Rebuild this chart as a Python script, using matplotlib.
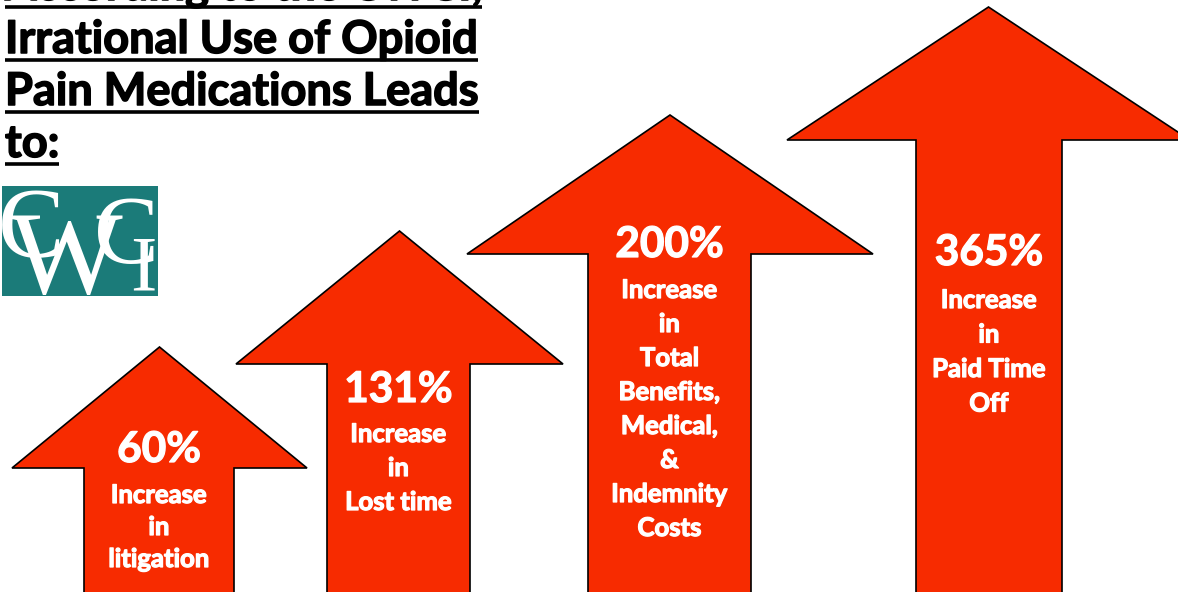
import matplotlib
matplotlib.use("Agg")
import matplotlib.pyplot as plt
import matplotlib.patheffects as pe
from matplotlib.patches import Polygon, Rectangle

# ---------------- data ----------------
percent_values = [60, 131, 200, 365]
percent_labels = [f"{v}%" for v in percent_values]
descriptions = [
    ["Increase", "in", "litigation"],
    ["Increase", "in", "Lost time"],
    ["Increase", "in", "Total", "Benefits,", "Medical,", "&", "Indemnity", "Costs"],
    ["Increase", "in", "Paid Time", "Off"],
]
title_lines = ["According to the CWCI,", "Irrational Use of Opioid",
               "Pain Medications Leads", "to:"]
logo_letters = ["C", "W", "C", "I"]

# ---------------- layout (pixel coords, y downward) ----------------
W, H = 1178, 592
shaft_left = [84, 327, 588, 916]
shaft_right = [234, 470, 751, 1062]
head_left = [12, 236, 467, 787]
head_right = [307, 563, 873, 1190]
tip_y = [347, 231, 115, 7]
head_base_y = [468, 364, 254, 140]
pct_baseline = [462, 402, 257, 265]
first_gap = [41, 40, 41, 43]
line_gap = [32, 34, 34, 34.5]

ARROW_RED = "#f72b00"
TEAL = "#1b7b79"
FONT = "Lato"

fig = plt.figure(figsize=(W / 100, H / 100), dpi=100)
ax = fig.add_axes([0, 0, 1, 1])
ax.set_xlim(0, W)
ax.set_ylim(H, 0)
ax.axis("off")

white_heavy = [pe.withStroke(linewidth=0.9, foreground="white")]
black_heavy = [pe.withStroke(linewidth=1.1, foreground="black")]

# ---------------- arrows ----------------
for i in range(len(percent_values)):
    cx = (head_left[i] + head_right[i]) / 2
    pts = [
        (cx, tip_y[i]),
        (head_right[i], head_base_y[i]),
        (shaft_right[i], head_base_y[i]),
        (shaft_right[i], H + 10),
        (shaft_left[i], H + 10),
        (shaft_left[i], head_base_y[i]),
        (head_left[i], head_base_y[i]),
    ]
    ax.add_patch(Polygon(pts, closed=True, facecolor=ARROW_RED,
                         edgecolor="black", linewidth=1.2, joinstyle="miter",
                         zorder=2))
    tx = (shaft_left[i] + shaft_right[i]) / 2
    ax.text(tx, pct_baseline[i], percent_labels[i], color="white",
            fontsize=30.5, fontweight="bold", family=FONT,
            ha="center", va="baseline", zorder=3, path_effects=white_heavy)
    y = pct_baseline[i] + first_gap[i]
    for line in descriptions[i]:
        ax.text(tx, y, line, color="white", fontsize=18.5, fontweight="bold",
                family=FONT, ha="center", va="baseline", zorder=3,
                path_effects=white_heavy)
        y += line_gap[i]

# ---------------- title ----------------
title_x = 5
title_baselines = [0, 53, 105, 157]
title_texts = []
for line, yb in zip(title_lines, title_baselines):
    t = ax.text(title_x, yb, line, color="black", fontsize=32.5,
                fontweight="bold", family=FONT, ha="left", va="baseline",
                zorder=3, path_effects=black_heavy)
    title_texts.append((t, yb))

# ---------------- logo ----------------
logo_box = Rectangle((2, 186), 156, 110, facecolor=TEAL, edgecolor="none",
                     zorder=2)
ax.add_patch(logo_box)
logo_pos = [(31, 256, 72), (66, 293, 86), (126, 263, 70), (143, 289, 57)]
for letter, (lx, ly, fs) in zip(logo_letters, logo_pos):
    lt = ax.text(lx, ly, letter, color="white", fontsize=fs,
                 family="Liberation Serif", ha="center", va="baseline",
                 zorder=3)
    lt.set_clip_path(logo_box)

# underlines from the rendered title extents
fig.canvas.draw()
renderer = fig.canvas.get_renderer()
inv = ax.transData.inverted()
for t, yb in title_texts:
    bb = t.get_window_extent(renderer)
    x0, _ = inv.transform((bb.x0, bb.y0))
    x1, _ = inv.transform((bb.x1, bb.y0))
    ax.plot([x0, x1], [yb + 7, yb + 7], color="black", linewidth=2.6,
            solid_capstyle="butt", zorder=3)

fig.savefig("out.png", dpi=100, facecolor="white")
